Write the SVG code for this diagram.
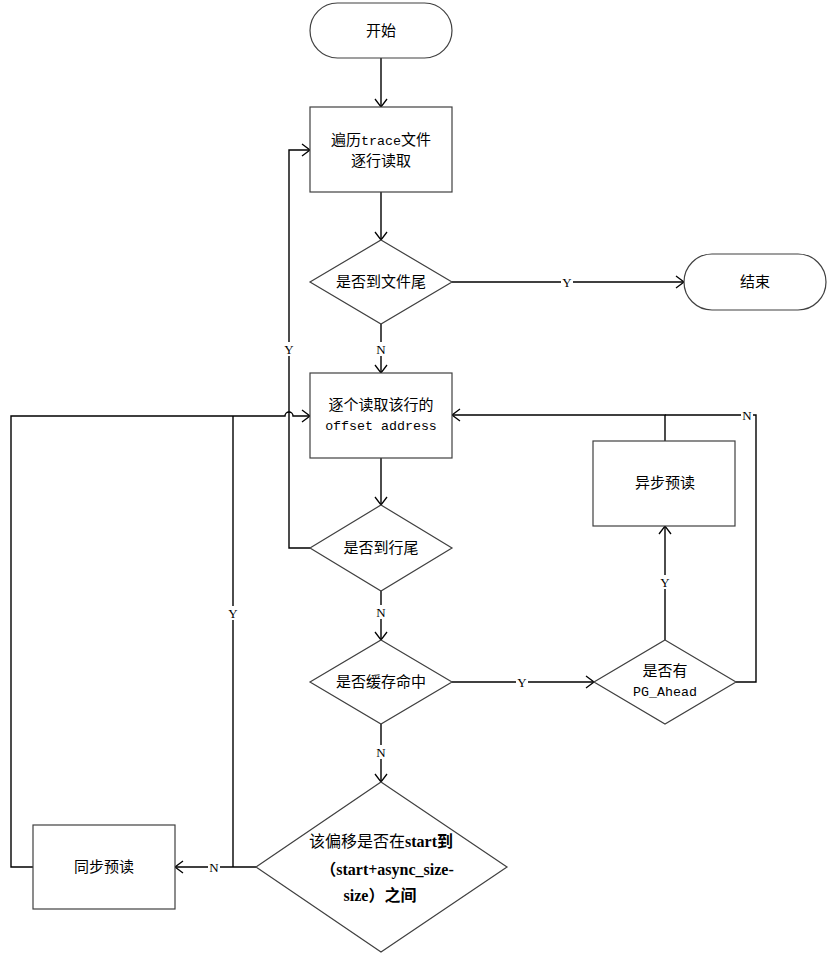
<svg xmlns="http://www.w3.org/2000/svg" width="828" height="955" viewBox="0 0 828 955">
<defs>
<marker id="arr" markerUnits="userSpaceOnUse" markerWidth="12" markerHeight="16" viewBox="-10 -8 12 16" refX="0" refY="0" orient="auto">
<path d="M-8,-6 L0,0 L-8,6" fill="none" stroke="#000" stroke-width="1.3"/>
</marker>
</defs>
<style>
.shape{fill:#fff;stroke:#404040;stroke-width:1.2}
.line{fill:none;stroke:#000;stroke-width:1.4}
.t{font-family:"Noto Sans CJK SC",sans-serif;font-size:15px;fill:#000;text-anchor:middle}
.m{font-family:"Liberation Mono",monospace;font-size:13.3px}
.lbl{font-family:"Liberation Serif","Noto Sans CJK SC",serif;font-size:13px;fill:#000;text-anchor:middle}
.lblbg{fill:#fff}
.b{font-family:"Liberation Serif","Noto Sans CJK SC",serif;font-size:16px;font-weight:bold;fill:#000}
.r{font-family:"Noto Sans CJK SC",sans-serif;font-size:16px;fill:#000}
</style>
<rect width="828" height="955" fill="#fff"/>
<g id="connectors">
<path class="line" d="M381,58 V107" marker-end="url(#arr)"/>
<path class="line" d="M381,192 V240" marker-end="url(#arr)"/>
<path class="line" d="M452,282 H684" marker-end="url(#arr)"/>
<path class="line" d="M381,324 V373" marker-end="url(#arr)"/>
<path class="line" d="M381,458 V505" marker-end="url(#arr)"/>
<path class="line" d="M310,548 H289 V150 H310" marker-end="url(#arr)"/>
<path class="line" d="M381,591 V640" marker-end="url(#arr)"/>
<path class="line" d="M452,682 H594" marker-end="url(#arr)"/>
<path class="line" d="M665,640 V526" marker-end="url(#arr)"/>
<path class="line" d="M665,441 V415 H452" marker-end="url(#arr)"/>
<path class="line" d="M736,682 H756 V415 H665"/>
<path class="line" d="M381,724 V782" marker-end="url(#arr)"/>
<path class="line" d="M256,867 H175" marker-end="url(#arr)"/>
<path class="line" d="M233,867 V416"/>
<path class="line" d="M33,867 H11 V416 H285 A4,4 0 0 1 293,416 H310" marker-end="url(#arr)"/>
<rect class="lblbg" x="561" y="275" width="12" height="14"/>
<text class="lbl" x="567" y="287">Y</text>
<rect class="lblbg" x="375" y="342" width="12" height="14"/>
<text class="lbl" x="381" y="354">N</text>
<rect class="lblbg" x="283" y="342" width="12" height="14"/>
<text class="lbl" x="289" y="354">Y</text>
<rect class="lblbg" x="375" y="605" width="12" height="14"/>
<text class="lbl" x="381" y="617">N</text>
<rect class="lblbg" x="516" y="675" width="12" height="14"/>
<text class="lbl" x="522" y="687">Y</text>
<rect class="lblbg" x="659" y="575" width="12" height="14"/>
<text class="lbl" x="665" y="587">Y</text>
<rect class="lblbg" x="741" y="408" width="12" height="14"/>
<text class="lbl" x="747" y="420">N</text>
<rect class="lblbg" x="375" y="745" width="12" height="14"/>
<text class="lbl" x="381" y="757">N</text>
<rect class="lblbg" x="227" y="606" width="12" height="14"/>
<text class="lbl" x="233" y="618">Y</text>
<rect class="lblbg" x="208" y="860" width="12" height="14"/>
<text class="lbl" x="214" y="872">N</text>
</g>
<g id="start">
<rect class="shape" x="310" y="3" width="142" height="55" rx="27.5" ry="27.5"/>
<text class="t" x="381" y="36">开始</text>
</g>
<g id="traverse">
<rect class="shape" x="310" y="107" width="142" height="85"/>
<text class="t" x="381" y="145">遍历<tspan class="m">trace</tspan>文件</text>
<text class="t" x="381" y="166">逐行读取</text>
</g>
<g id="eof">
<polygon class="shape" points="381,240 452,282 381,324 310,282"/>
<text class="t" x="381" y="287">是否到文件尾</text>
</g>
<g id="end">
<rect class="shape" x="684" y="254" width="142" height="56" rx="28" ry="28"/>
<text class="t" x="755" y="287">结束</text>
</g>
<g id="readoffset">
<rect class="shape" x="310" y="373" width="142" height="85"/>
<text class="t" x="381" y="410">逐个读取该行的</text>
<text class="t m" x="381" y="430">offset address</text>
</g>
<g id="eol">
<polygon class="shape" points="381,505 452,548 381,591 310,548"/>
<text class="t" x="381" y="553">是否到行尾</text>
</g>
<g id="cachehit">
<polygon class="shape" points="381,640 452,682 381,724 310,682"/>
<text class="t" x="381" y="687">是否缓存命中</text>
</g>
<g id="pgahead">
<polygon class="shape" points="665,640 736,682 665,724 594,682"/>
<text class="t" x="665" y="676">是否有</text>
<text class="t m" x="665" y="696">PG_Ahead</text>
</g>
<g id="async">
<rect class="shape" x="593" y="441" width="142" height="85"/>
<text class="t" x="665" y="488">异步预读</text>
</g>
<g id="inrange">
<polygon class="shape" points="381,782 507,867 381,952 256,867"/>
<text x="381" y="847" text-anchor="middle"><tspan class="r">该偏移是否在</tspan><tspan class="b">start到</tspan></text>
<text class="b" x="387" y="875" text-anchor="middle">（start+async_size-</text>
<text class="b" x="380" y="901" text-anchor="middle">size）之间</text>
</g>
<g id="sync">
<rect class="shape" x="33" y="825" width="142" height="84"/>
<text class="t" x="104" y="872">同步预读</text>
</g>
</svg>
